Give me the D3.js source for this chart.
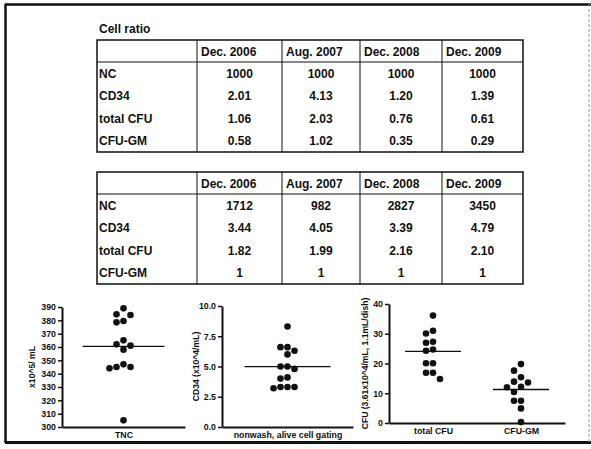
<!DOCTYPE html>
<html><head><meta charset="utf-8">
<script src="https://cdn.jsdelivr.net/npm/d3@7"></script>
<style>
html,body{margin:0;padding:0;background:#fff;}
svg{display:block;}
text{font-family:"Liberation Sans",Arial,sans-serif;fill:#111;}
</style></head>
<body>
<svg id="c" width="591" height="449"></svg>
<script>
// ---------- data ----------
const dates = ["Dec. 2006", "Aug. 2007", "Dec. 2008", "Dec. 2009"];
const rowLabels = ["NC", "CD34", "total CFU", "CFU-GM"];
const ratioNC = ["1000", "1000", "1000", "1000"];
const ratioCD34 = ["2.01", "4.13", "1.20", "1.39"];
const ratioTotalCFU = ["1.06", "2.03", "0.76", "0.61"];
const ratioCFUGM = ["0.58", "1.02", "0.35", "0.29"];
const t2NC = ["1712", "982", "2827", "3450"];
const t2CD34 = ["3.44", "4.05", "3.39", "4.79"];
const t2TotalCFU = ["1.82", "1.99", "2.16", "2.10"];
const t2CFUGM = ["1", "1", "1", "1"];

const tncValues = [389, 384.5, 384, 378.5, 379.5, 365, 362, 361, 358, 347, 345, 344, 345, 305];
const cd34Values = [8.3, 6.3, 6.6, 6.6, 6.0, 5.0, 4.8, 5.0, 4.1, 4.0, 3.3, 3.2, 3.3, 3.3];
const totalCFUValues = [36.1, 30.1, 31, 27, 27.3, 24.3, 24.7, 20.1, 20.1, 16.9, 16.9, 14.8];
const cfuGMValues = [19.8, 17.6, 15.4, 13.9, 13.6, 12.2, 12.0, 10.4, 7.5, 7.5, 4.9, 0.3];

const tncTicks = [300, 310, 320, 330, 340, 350, 360, 370, 380, 390];
const cd34Ticks = [0, 2.5, 5, 7.5, 10];
const cfuTicks = [0, 10, 20, 30, 40];

// ---------- drawing ----------
const svg = d3.select("#c");
const FS = 12;

// outer frame
svg.append("line").attr("x1",5).attr("y1",4.5).attr("x2",591).attr("y2",4.5).attr("stroke","#111").attr("stroke-width",2.5);
svg.append("line").attr("x1",5.5).attr("y1",4).attr("x2",5.5).attr("y2",443).attr("stroke","#111").attr("stroke-width",2.5);
svg.append("line").attr("x1",5).attr("y1",442.5).attr("x2",591).attr("y2",442.5).attr("stroke","#111").attr("stroke-width",3);
svg.append("line").attr("x1",589).attr("y1",4).attr("x2",589).attr("y2",443).attr("stroke","#999").attr("stroke-width",1).attr("stroke-dasharray","3,2");

svg.append("text").attr("x",99).attr("y",33).attr("font-size",FS).attr("font-weight","bold").text("Cell ratio");

const colEdges = [97, 197, 282, 360, 442, 523];
function drawTable(top, rowsData) {
  const headerH = 22, rowH = 22.5;
  const bottom = top + headerH + rowH * rowsData.length;
  const g = svg.append("g").attr("font-weight","bold");
  dates.forEach((d, i) => {
    g.append("text").attr("x", colEdges[i+1] + 4).attr("y", top + headerH/2 + 4.5)
      .attr("font-size", FS).text(d);
  });
  rowsData.forEach((vals, r) => {
    const cy = top + headerH + rowH * r + rowH/2 + 4.5;
    g.append("text").attr("x", colEdges[0] + 2).attr("y", cy).attr("font-size", FS).text(rowLabels[r]);
    vals.forEach((v, i) => {
      g.append("text").attr("x", (colEdges[i+1] + colEdges[i+2]) / 2).attr("y", cy)
        .attr("text-anchor", "middle").attr("font-size", FS).text(v);
    });
  });
  g.append("rect").attr("x", colEdges[0]).attr("y", top).attr("width", colEdges[5]-colEdges[0])
    .attr("height", bottom-top).attr("fill","none").attr("stroke","#111").attr("stroke-width",1.5);
  g.append("line").attr("x1", colEdges[0]).attr("x2", colEdges[5]).attr("y1", top+headerH).attr("y2", top+headerH)
    .attr("stroke","#111").attr("stroke-width",1);
  colEdges.slice(1,5).forEach(x => {
    g.append("line").attr("x1", x).attr("x2", x).attr("y1", top).attr("y2", bottom)
      .attr("stroke","#111").attr("stroke-width",1);
  });
}
drawTable(40, [ratioNC, ratioCD34, ratioTotalCFU, ratioCFUGM]);
drawTable(172, [t2NC, t2CD34, t2TotalCFU, t2CFUGM]);

// beeswarm placement computed from the values
function swarm(ys, step, dia) {
  const order = ys.map((y, i) => i).sort((a, b) => ys[a] - ys[b]);
  const placed = [];
  const offs = new Array(ys.length);
  order.forEach(i => {
    const y = ys[i];
    for (let k = 0; k < 40; k++) {
      const m = Math.ceil(k/2) * (k % 2 ? -1 : 1);
      const x = m * step;
      if (placed.every(p => Math.hypot(p.x - x, p.y - y) >= dia - 0.01)) {
        placed.push({x, y}); offs[i] = x; break;
      }
    }
  });
  return offs;
}

function dotPlot(cfg) {
  const g = svg.append("g");
  const y = d3.scaleLinear().domain(cfg.domain).range([cfg.y0, cfg.y1]);
  const x = d3.scalePoint().domain(cfg.cats).range([cfg.x0, cfg.x1]).padding(0.5);
  const yAxis = d3.axisLeft(y).tickValues(cfg.ticks).tickFormat(cfg.fmt).tickSize(4).tickSizeOuter(0).tickPadding(2);
  const ya = g.append("g").attr("transform", `translate(${cfg.x0},0)`).call(yAxis);
  ya.select(".domain").attr("stroke","#111").attr("stroke-width",2);
  ya.selectAll(".tick line").attr("stroke","#111").attr("stroke-width",1.5);
  ya.selectAll(".tick text").attr("font-size",8.8).attr("font-weight","bold")
    .attr("font-family","'Liberation Sans',Arial,sans-serif").attr("fill","#111");
  const xAxis = d3.axisBottom(x).tickSize(0).tickSizeOuter(0).tickPadding(5);
  const xa = g.append("g").attr("transform", `translate(0,${cfg.y0})`).call(xAxis);
  xa.select(".domain").attr("stroke","#111").attr("stroke-width",2);
  xa.selectAll(".tick text").attr("font-size",8.8).attr("font-weight","bold")
    .attr("font-family","'Liberation Sans',Arial,sans-serif").attr("fill","#111");
  g.append("text").attr("transform", `translate(${cfg.titleX},${(cfg.y0+cfg.y1)/2}) rotate(-90)`)
    .attr("text-anchor","middle").attr("font-size",8.6).attr("font-weight","bold").text(cfg.title);
  cfg.series.forEach((vals, si) => {
    const cx = x(cfg.cats[si]);
    const offs = swarm(vals.map(v => y(v)), 7, 7);
    g.selectAll(null).data(vals).enter().append("circle")
      .attr("cx", (d, i) => cx + offs[i]).attr("cy", d => y(d)).attr("r", 3.3).attr("fill", "#111");
    const m = d3.mean(vals);
    g.append("line").attr("x1", cx - cfg.half).attr("x2", cx + cfg.half).attr("y1", y(m)).attr("y2", y(m))
      .attr("stroke","#111").attr("stroke-width",1.3);
  });
}

dotPlot({domain:[300,390], y0:427, y1:307, x0:62, x1:185, cats:["TNC"], series:[tncValues],
  ticks:tncTicks, fmt:d3.format("d"), title:"x10^5/ mL", titleX:35, half:41});
dotPlot({domain:[0,10], y0:427, y1:306, x0:222, x1:353, cats:["nonwash, alive cell gating"], series:[cd34Values],
  ticks:cd34Ticks, fmt:d3.format(".1f"), title:"CD34 (x10^4/mL)", titleX:199, half:43});
dotPlot({domain:[0,40], y0:423, y1:304, x0:389, x1:565, cats:["total CFU","CFU-GM"], series:[totalCFUValues, cfuGMValues],
  ticks:cfuTicks, fmt:d3.format("d"), title:"CFU (3.61x10^4/mL, 1.1mL/dish)", titleX:368, half:28});
</script>
</body></html>
